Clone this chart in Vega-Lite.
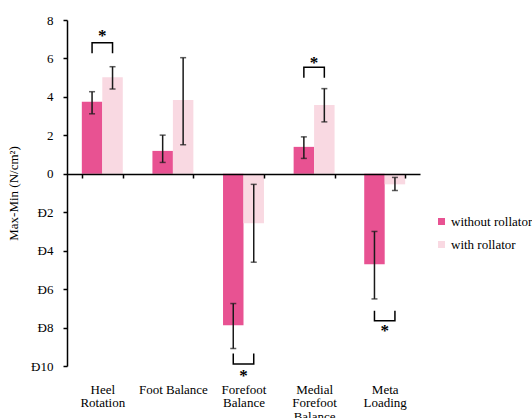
{
  "$schema": "https://vega.github.io/schema/vega-lite/v6.json",
  "width": 353,
  "height": 346,
  "autosize": "none",
  "padding": {"left": 67, "top": 20, "right": 112, "bottom": 52},
  "background": "white",
  "config": {
    "view": {"stroke": null},
    "font": "Liberation Serif, Times New Roman, serif",
    "axis": {"labelFont": "Liberation Serif, Times New Roman, serif", "titleFont": "Liberation Serif, Times New Roman, serif", "labelColor": "#000", "titleColor": "#000", "domainColor": "#000", "tickColor": "#000", "grid": false},
    "axisY": {"labelOverlap": false, "labelFontSize": 13, "tickSize": 4, "labelPadding": 10, "domainWidth": 1.5, "tickWidth": 1.5, "titleFontSize": 13, "titleFontWeight": "normal", "titlePadding": 10},
    "legend": {"labelFont": "Liberation Serif, Times New Roman, serif", "labelColor": "#000"},
    "text": {"font": "Liberation Serif, Times New Roman, serif"}
  },
  "datasets": {
    "bars": [
      {"cat": "Heel Rotation", "grp": "without rollator", "v": 3.75, "lo": 3.12, "hi": 4.27},
      {"cat": "Heel Rotation", "grp": "with rollator", "v": 5.02, "lo": 4.41, "hi": 5.57},
      {"cat": "Foot Balance", "grp": "without rollator", "v": 1.19, "lo": 0.59, "hi": 2.01},
      {"cat": "Foot Balance", "grp": "with rollator", "v": 3.84, "lo": 1.51, "hi": 6.04},
      {"cat": "Forefoot Balance", "grp": "without rollator", "v": -7.88, "lo": -9.09, "hi": -6.75},
      {"cat": "Forefoot Balance", "grp": "with rollator", "v": -2.58, "lo": -4.6, "hi": -0.55},
      {"cat": "Medial Forefoot Balance", "grp": "without rollator", "v": 1.4, "lo": 0.8, "hi": 1.92},
      {"cat": "Medial Forefoot Balance", "grp": "with rollator", "v": 3.58, "lo": 2.7, "hi": 4.43},
      {"cat": "Meta Loading", "grp": "without rollator", "v": -4.71, "lo": -6.51, "hi": -3.0},
      {"cat": "Meta Loading", "grp": "with rollator", "v": -0.55, "lo": -0.87, "hi": -0.19}
    ],
    "brackets": [
      {"id": "a", "cat": "Heel Rotation", "grp": "without rollator", "y": 6.27, "ord": 1},
      {"id": "a", "cat": "Heel Rotation", "grp": "without rollator", "y": 6.82, "ord": 2},
      {"id": "a", "cat": "Heel Rotation", "grp": "with rollator", "y": 6.82, "ord": 3},
      {"id": "a", "cat": "Heel Rotation", "grp": "with rollator", "y": 6.27, "ord": 4},
      {"id": "b", "cat": "Forefoot Balance", "grp": "without rollator", "y": -9.35, "ord": 1},
      {"id": "b", "cat": "Forefoot Balance", "grp": "without rollator", "y": -9.9, "ord": 2},
      {"id": "b", "cat": "Forefoot Balance", "grp": "with rollator", "y": -9.9, "ord": 3},
      {"id": "b", "cat": "Forefoot Balance", "grp": "with rollator", "y": -9.35, "ord": 4},
      {"id": "c", "cat": "Medial Forefoot Balance", "grp": "without rollator", "y": 5.0, "ord": 1},
      {"id": "c", "cat": "Medial Forefoot Balance", "grp": "without rollator", "y": 5.54, "ord": 2},
      {"id": "c", "cat": "Medial Forefoot Balance", "grp": "with rollator", "y": 5.54, "ord": 3},
      {"id": "c", "cat": "Medial Forefoot Balance", "grp": "with rollator", "y": 5.0, "ord": 4},
      {"id": "d", "cat": "Meta Loading", "grp": "without rollator", "y": -7.12, "ord": 1},
      {"id": "d", "cat": "Meta Loading", "grp": "without rollator", "y": -7.65, "ord": 2},
      {"id": "d", "cat": "Meta Loading", "grp": "with rollator", "y": -7.65, "ord": 3},
      {"id": "d", "cat": "Meta Loading", "grp": "with rollator", "y": -7.12, "ord": 4}
    ],
    "stars": [
      {"cat": "Heel Rotation", "y": 7.26},
      {"cat": "Forefoot Balance", "y": -10.42},
      {"cat": "Medial Forefoot Balance", "y": 5.86},
      {"cat": "Meta Loading", "y": -8.05}
    ]
  },
  "encoding": {
    "x": {
      "field": "cat", "type": "nominal",
      "sort": ["Heel Rotation", "Foot Balance", "Forefoot Balance", "Medial Forefoot Balance", "Meta Loading"],
      "scale": {"paddingInner": 0.42, "paddingOuter": 0.21},
      "axis": {
        "title": null, "orient": "bottom", "offset": -192, "zindex": 1,
        "tickBand": "extent", "tickSize": 4, "domainWidth": 1.5, "tickWidth": 1.5,
        "labelAngle": 0, "labelPadding": 205, "labelFontSize": 13, "labelLineHeight": 13.5,
        "labelBaseline": "top", "labelOverlap": false, "labelBound": false, "labelLimit": 200,
        "labelExpr": "datum.label == 'Foot Balance' ? datum.label : split(datum.label, ' ')"
      }
    }
  },
  "layer": [
    {
      "data": {"name": "bars"},
      "mark": {"type": "bar"},
      "encoding": {
        "xOffset": {"field": "grp", "type": "nominal", "sort": ["without rollator", "with rollator"], "scale": {"paddingInner": 0, "paddingOuter": 0}},
        "y": {
          "field": "v", "type": "quantitative",
          "scale": {"domain": [-10, 8], "nice": false, "zero": false},
          "axis": {
            "title": "Max-Min (N/cm²)", "values": [-10, -8, -6, -4, -2, 0, 2, 4, 6, 8], "labelOverlap": false,
            "labelExpr": "datum.value < 0 ? 'Đ' + abs(datum.value) : datum.label"
          }
        },
        "color": {
          "field": "grp", "type": "nominal",
          "sort": ["without rollator", "with rollator"],
          "scale": {"domain": ["without rollator", "with rollator"], "range": ["#E85292", "#F9D9E2"]},
          "legend": {
            "title": null, "orient": "none", "legendX": 368, "legendY": 195,
            "symbolType": "square", "symbolSize": 49, "symbolStrokeWidth": 0, "symbolOpacity": 1,
            "labelFontSize": 13, "rowPadding": 9, "padding": 0, "labelOffset": 3, "labelLimit": 200
          }
        }
      }
    },
    {
      "data": {"name": "bars"},
      "mark": {"type": "rule", "color": "#1a1a1a", "strokeWidth": 1.5},
      "encoding": {
        "xOffset": {"field": "grp", "type": "nominal", "sort": ["without rollator", "with rollator"]},
        "y": {"field": "lo", "type": "quantitative", "scale": {"domain": [-10, 8], "nice": false, "zero": false}, "axis": {"title": "Max-Min (N/cm²)", "values": [-10, -8, -6, -4, -2, 0, 2, 4, 6, 8], "labelOverlap": false, "labelExpr": "datum.value < 0 ? 'Đ' + abs(datum.value) : datum.label"}},
        "y2": {"field": "hi"}
      }
    },
    {
      "data": {"name": "bars"},
      "mark": {"type": "tick", "color": "#1a1a1a", "size": 6, "thickness": 1.5},
      "encoding": {
        "xOffset": {"field": "grp", "type": "nominal", "sort": ["without rollator", "with rollator"]},
        "y": {"field": "lo", "type": "quantitative", "scale": {"domain": [-10, 8], "nice": false, "zero": false}, "axis": {"title": "Max-Min (N/cm²)", "values": [-10, -8, -6, -4, -2, 0, 2, 4, 6, 8], "labelOverlap": false, "labelExpr": "datum.value < 0 ? 'Đ' + abs(datum.value) : datum.label"}}
      }
    },
    {
      "data": {"name": "bars"},
      "mark": {"type": "tick", "color": "#1a1a1a", "size": 6, "thickness": 1.5},
      "encoding": {
        "xOffset": {"field": "grp", "type": "nominal", "sort": ["without rollator", "with rollator"]},
        "y": {"field": "hi", "type": "quantitative", "scale": {"domain": [-10, 8], "nice": false, "zero": false}, "axis": {"title": "Max-Min (N/cm²)", "values": [-10, -8, -6, -4, -2, 0, 2, 4, 6, 8], "labelOverlap": false, "labelExpr": "datum.value < 0 ? 'Đ' + abs(datum.value) : datum.label"}}
      }
    },
    {
      "data": {"name": "brackets"},
      "mark": {"type": "line", "color": "#000", "strokeWidth": 1.5},
      "encoding": {
        "xOffset": {"field": "grp", "type": "nominal", "sort": ["without rollator", "with rollator"]},
        "y": {"field": "y", "type": "quantitative", "scale": {"domain": [-10, 8], "nice": false, "zero": false}, "axis": {"title": "Max-Min (N/cm²)", "values": [-10, -8, -6, -4, -2, 0, 2, 4, 6, 8], "labelOverlap": false, "labelExpr": "datum.value < 0 ? 'Đ' + abs(datum.value) : datum.label"}},
        "detail": {"field": "id"},
        "order": {"field": "ord", "type": "quantitative"}
      }
    },
    {
      "data": {"name": "stars"},
      "mark": {"type": "text", "text": "*", "font": "Liberation Serif, Times New Roman, serif", "fontSize": 17, "fontWeight": "bold", "baseline": "middle", "dy": 2, "color": "#000"},
      "encoding": {
        "y": {"field": "y", "type": "quantitative", "scale": {"domain": [-10, 8], "nice": false, "zero": false}, "axis": {"title": "Max-Min (N/cm²)", "values": [-10, -8, -6, -4, -2, 0, 2, 4, 6, 8], "labelOverlap": false, "labelExpr": "datum.value < 0 ? 'Đ' + abs(datum.value) : datum.label"}}
      }
    }
  ]
}
